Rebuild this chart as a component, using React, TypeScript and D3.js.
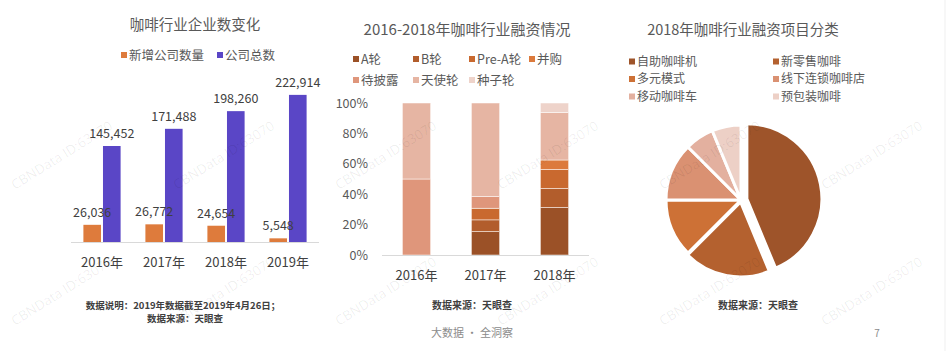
import React from "react";
import * as d3 from "d3";

// ---- Chart 1 data ----
const years1 = ["2016年", "2017年", "2018年", "2019年"];
const newCompanies = [26036, 26772, 24654, 5548];
const totalCompanies = [145452, 171488, 198260, 222914];
const series1 = ["新增公司数量", "公司总数"];
const colors1 = ["#DE7B3C", "#5A46C6"];

// ---- Chart 2 data (share of deals) ----
const years2 = ["2016年", "2017年", "2018年"];
const rounds = ["A轮", "B轮", "Pre-A轮", "并购", "待披露", "天使轮", "种子轮"];
const roundColors = ["#9B5127", "#B25D2C", "#C9692F", "#DC7A3C", "#DF967B", "#E6B5A3", "#EED3CA"];
const shareA = [0, 0.154, 0.3125];
const shareB = [0, 0.077, 0.125];
const sharePreA = [0, 0.077, 0.125];
const shareMA = [0, 0, 0.0625];
const shareUndisclosed = [0.5, 0.077, 0];
const shareAngel = [0.5, 0.615, 0.3125];
const shareSeed = [0, 0, 0.0625];
const yTicks2 = [0, 0.2, 0.4, 0.6, 0.8, 1];

// ---- Chart 3 data ----
const pieCategories = ["自助咖啡机", "新零售咖啡", "多元模式", "线下连锁咖啡店", "移动咖啡车", "预包装咖啡"];
const pieValues = [7, 3, 2, 2, 1, 1];
const pieColors = ["#9E542A", "#B4612F", "#CD7136", "#DA9172", "#E3B09F", "#EDD0C6"];

const FONT = "'Noto Sans CJK SC', 'Noto Sans', sans-serif";
const TXT = "#595959";

export default function App() {
  // Chart 1 scales
  const x1 = d3.scaleBand<string>().domain(years1).range([71, 319]).paddingInner(0.4).paddingOuter(0.2);
  const x1s = d3.scaleBand<string>().domain(series1).range([0, x1.bandwidth()]).paddingInner(0.1);
  const y1 = d3.scaleLinear().domain([0, 250000]).range([242, 77]);
  const fmt = d3.format(",");

  // Chart 2
  const x2 = d3.scaleBand<string>().domain(years2).range([382, 589]).paddingInner(0.59).paddingOuter(0.295);
  const y2 = d3.scaleLinear().domain([0, 1]).range([255, 103]);
  const shareRows = [shareA, shareB, sharePreA, shareMA, shareUndisclosed, shareAngel, shareSeed];
  const table = years2.map((yr, i) => {
    const o: any = { year: yr };
    rounds.forEach((r, k) => (o[r] = shareRows[k][i]));
    return o;
  });
  const stacked = d3.stack<any>().keys(rounds)(table);

  // Chart 3
  const cx = 741, cy = 200, r = 75;
  const pie = d3.pie<number>().sort(null).value((d) => d)(pieValues);
  const arc = d3.arc<d3.PieArcDatum<number>>().innerRadius(0).outerRadius(r);
  const offsets = [6, 2, 0, 0, 0, 0];

  const watermarkX = [15, 177, 339, 501, 663, 825];
  const watermarkY = [190, 326];

  const bars1 = years1.flatMap((yr, i) =>
    [newCompanies[i], totalCompanies[i]].map((v, k) => ({
      x: x1(yr)! + x1s(series1[k])!,
      v,
      k,
    }))
  );

  return (
    <svg width={947} height={351} style={{ position: "absolute", left: 0, top: 0, fontFamily: FONT }}>
      <rect width={947} height={351} fill="#fff" />
      <line x1={945} x2={945} y1={0} y2={351} stroke="#efefef" />

      {/* Chart 1 */}
      <text x={195} y={30} textAnchor="middle" fontSize={14.5} fill={TXT}>咖啡行业企业数变化</text>
      {series1.map((s, i) => {
        const lx = [121, 217][i];
        return (
          <g key={s}>
            <rect x={lx} y={52} width={6} height={6} fill={colors1[i]} />
            <text x={lx + 8} y={59.5} fontSize={12.5} fill={TXT}>{s}</text>
          </g>
        );
      })}
      <line x1={71} x2={319} y1={242.5} y2={242.5} stroke="#d9d9d9" />
      {bars1.map((b, i) => (
        <rect key={i} x={b.x} y={y1(b.v)} width={x1s.bandwidth()} height={y1(0) - y1(b.v)} fill={colors1[b.k]} />
      ))}
      {bars1.map((b, i) => (
        <text key={i} x={b.x + x1s.bandwidth() / 2} y={y1(b.v) - 8} textAnchor="middle" fontSize={12.5} fill="#404040">{fmt(b.v)}</text>
      ))}
      {years1.map((yr) => (
        <text key={yr} x={x1(yr)! + x1.bandwidth() / 2} y={267} textAnchor="middle" fontSize={13} fill="#404040">{yr}</text>
      ))}
      <text x={183} y={308.5} textAnchor="middle" fontSize={9.5} fontWeight={600} fill="#404040">数据说明：2019年数据截至2019年4月26日；</text>
      <text x={185} y={322} textAnchor="middle" fontSize={9.5} fontWeight={600} fill="#404040">数据来源：天眼查</text>

      {/* Chart 2 */}
      <text x={467} y={35} textAnchor="middle" fontSize={15} fill={TXT}>2016-2018年咖啡行业融资情况</text>
      {rounds.map((rd, k) => {
        const lx = [353, 413, 469, 529][k % 4];
        const ly = k < 4 ? 59 : 80;
        return (
          <g key={rd}>
            <rect x={lx} y={ly - 3} width={6} height={6} fill={roundColors[k]} />
            <text x={lx + 8} y={ly + 4.5} fontSize={12.5} fill={TXT}>{rd}</text>
          </g>
        );
      })}
      {yTicks2.map((t) => (
        <text key={t} x={368} y={y2(t) + 4.5} textAnchor="end" fontSize={12.5} fill={TXT}>{d3.format(".0%")(t)}</text>
      ))}
      {stacked.map((layer, k) => (
        <g key={layer.key} fill={roundColors[k]}>
          {layer.map((d, i) =>
            d[1] - d[0] > 0 ? (
              <rect key={i} x={x2(years2[i])!} y={y2(d[1])} width={x2.bandwidth()} height={y2(d[0]) - y2(d[1])} stroke="#fff" strokeWidth={0.5} />
            ) : null
          )}
        </g>
      ))}
      <line x1={382} x2={589} y1={255.5} y2={255.5} stroke="#d9d9d9" />
      {years2.map((yr) => (
        <text key={yr} x={x2(yr)! + x2.bandwidth() / 2} y={280} textAnchor="middle" fontSize={13} fill="#404040">{yr}</text>
      ))}
      <text x={472} y={308.5} textAnchor="middle" fontSize={10} fontWeight={600} fill="#404040">数据来源：天眼查</text>

      {/* Chart 3 */}
      <text x={743} y={35} textAnchor="middle" fontSize={14.5} fill={TXT}>2018年咖啡行业融资项目分类</text>
      {pieCategories.map((c, k) => {
        const lx = k % 2 === 0 ? 629 : 773;
        const ly = [61.5, 79, 96.5][Math.floor(k / 2)];
        return (
          <g key={c}>
            <rect x={lx} y={ly - 3} width={6} height={6} fill={pieColors[k]} />
            <text x={lx + 8} y={ly + 4.3} fontSize={12} fill={TXT}>{c}</text>
          </g>
        );
      })}
      <g transform={`translate(${cx},${cy})`}>
        {pie.map((p, k) => {
          const mid = (p.startAngle + p.endAngle) / 2;
          const dx = Math.sin(mid) * offsets[k];
          const dy = -Math.cos(mid) * offsets[k];
          return (
            <path key={k} d={arc(p)!} transform={`translate(${dx},${dy})`} fill={pieColors[k]} stroke="#fff" strokeWidth={3} strokeLinejoin="round" />
          );
        })}
      </g>
      <text x={758} y={308.5} textAnchor="middle" fontSize={10} fontWeight={600} fill="#404040">数据来源：天眼查</text>

      {/* Footer */}
      <text x={472} y={337} textAnchor="middle" fontSize={11} fill="#8c8c8c">大数据 · 全洞察</text>
      <text x={877} y={337} textAnchor="middle" fontSize={10} fill="#8c8c8c">7</text>

      {/* Watermarks */}
      <g fill="#000" fillOpacity={0.07} fontSize={13.5} fontFamily="'Open Sans', sans-serif">
        {watermarkX.map((wx) =>
          watermarkY.map((wy) => (
            <text key={`${wx}-${wy}`} transform={`translate(${wx},${wy}) rotate(-32)`}>CBNData ID:63070</text>
          ))
        )}
      </g>
    </svg>
  );
}
